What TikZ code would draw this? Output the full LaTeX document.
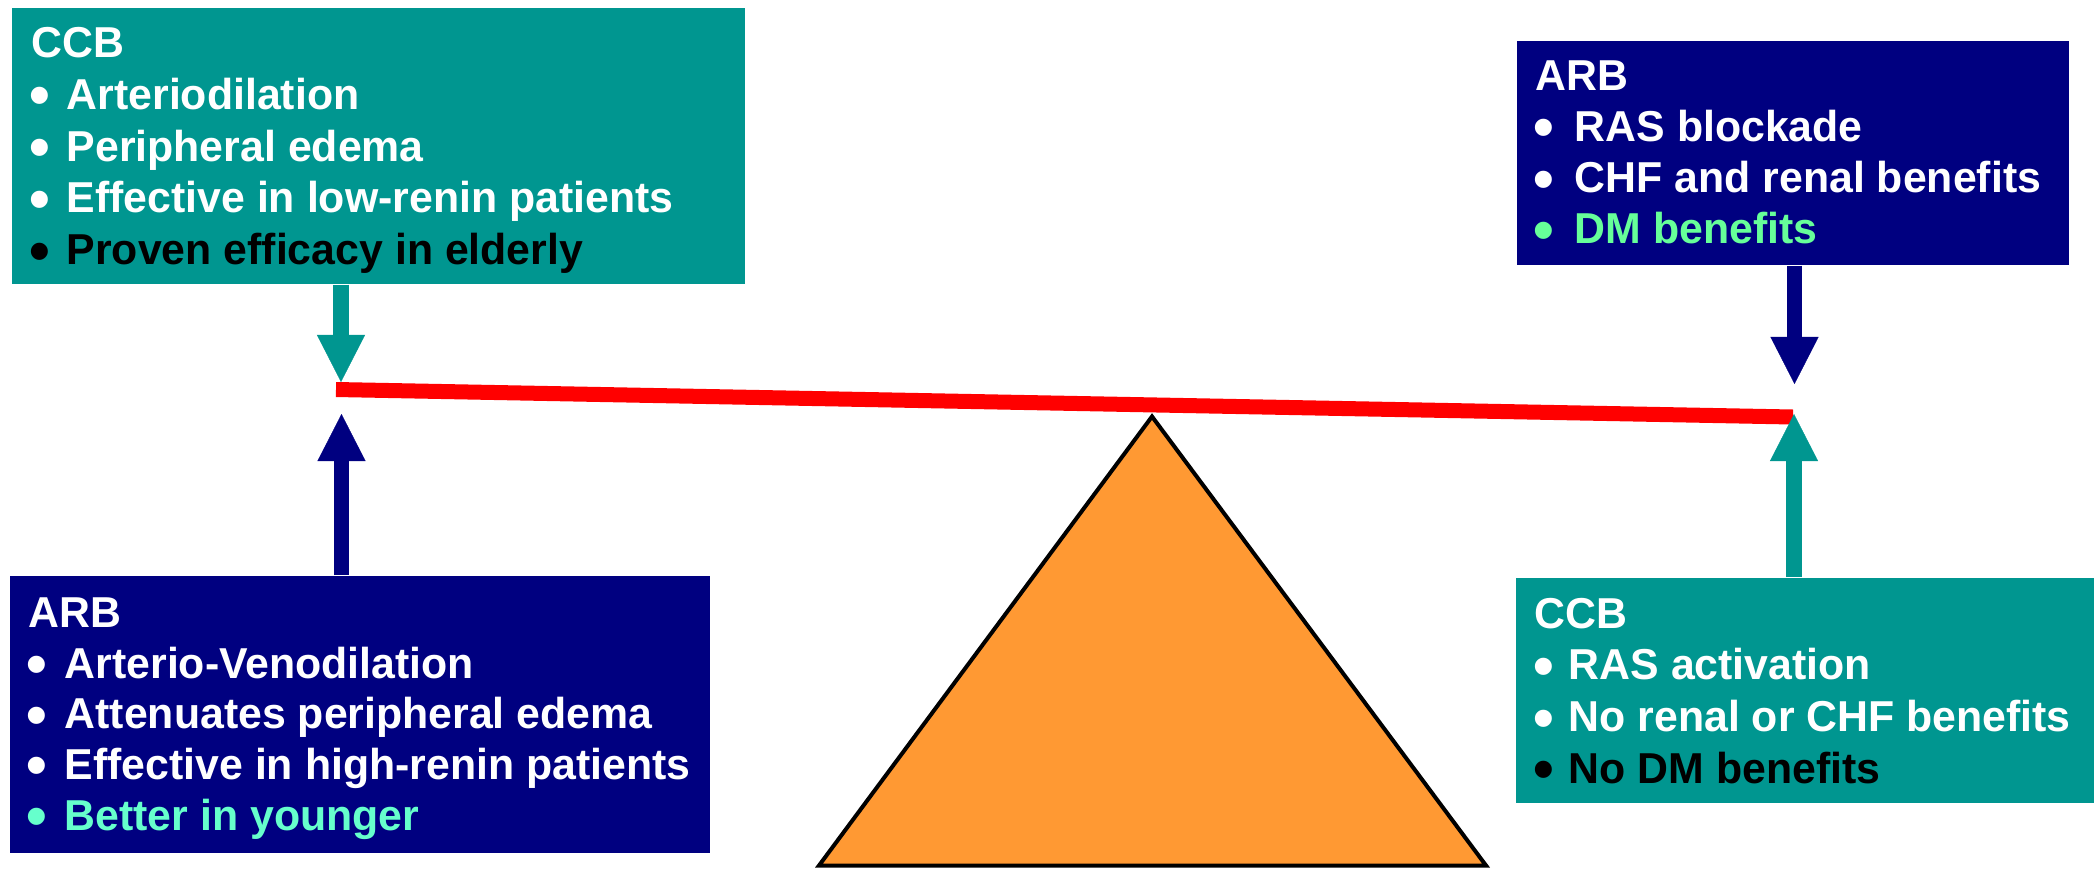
\documentclass[tikz,border=0pt]{standalone}
\usepackage{fontspec}
\setmainfont{Liberation Sans}[FakeStretch=0.99]
\usetikzlibrary{arrows.meta}
\definecolor{tealc}{RGB}{0,150,144}
\definecolor{navyc}{RGB}{0,0,128}
\definecolor{mintc}{RGB}{102,255,153}
\definecolor{aquac}{RGB}{102,255,204}
\definecolor{orangec}{RGB}{255,153,51}
\definecolor{redc}{RGB}{255,0,0}
\newcommand{\blt}[1]{\makebox[#1][l]{\smash{\raisebox{-1.9pt}{\fontsize{17pt}{14pt}\selectfont\char"2022}}}}
\begin{document}
\begin{tikzpicture}[x=0.01cm, y=-0.01cm,
  box/.style={rectangle, draw=none, inner sep=0pt, anchor=north west},
  tealbox/.style={box, fill=tealc},
  navybox/.style={box, fill=navyc},
  txt/.style={anchor=base west, inner sep=0pt, text=white,
    font=\fontsize{12.3pt}{14pt}\selectfont\bfseries},
  conn/.style={line width=0.155cm, -{Triangle[length=0.47cm, width=0.48cm, line width=0.1pt]}}
]
\useasboundingbox (0,0) rectangle (2100,869);

% boxes
\node[tealbox, minimum width=7.33cm, minimum height=2.76cm] (ccbL) at (11,7) {};
\node[navybox, minimum width=5.52cm, minimum height=2.24cm] (arbR) at (1516,40) {};
\node[navybox, minimum width=7.00cm, minimum height=2.77cm] (arbL) at (9,575) {};
\node[tealbox, minimum width=5.78cm, minimum height=2.25cm] (ccbR) at (1515,577) {};

% top-left CCB text
\node[txt] (tl0) at (31,57.5) {CCB};
\node[txt] (tl1) at (29,109.25) {\blt{0.37cm}Arteriodilation};
\node[txt] (tl2) at (29,161) {\blt{0.37cm}Peripheral edema};
\node[txt] (tl3) at (29,212.75) {\blt{0.37cm}Effective in low-renin patients};
\node[txt, text=black] (tl4) at (29,264.5) {\blt{0.37cm}Proven efficacy in elderly};

% top-right ARB text
\node[txt] (tr0) at (1535,90) {ARB};
\node[txt] (tr1) at (1533,141.3) {\blt{0.41cm}RAS blockade};
\node[txt] (tr2) at (1533,192.6) {\blt{0.41cm}CHF and renal benefits};
\node[txt, text=mintc] (tr3) at (1533,243.9) {\blt{0.41cm}DM benefits};

% bottom-left ARB text
\node[txt] (bl0) at (28,627) {ARB};
\node[txt] (bl1) at (26,678) {\blt{0.38cm}Arterio-Venodilation};
\node[txt] (bl2) at (26,728.5) {\blt{0.38cm}Attenuates peripheral edema};
\node[txt] (bl3) at (26,779) {\blt{0.38cm}Effective in high-renin patients};
\node[txt, text=aquac] (bl4) at (26,830) {\blt{0.38cm}Better in younger};

% bottom-right CCB text
\node[txt] (br0) at (1534,628) {CCB};
\node[txt] (br1) at (1533,679.7) {\blt{0.35cm}RAS activation};
\node[txt] (br2) at (1533,731.4) {\blt{0.35cm}No renal or CHF benefits};
\node[txt, text=black] (br3) at (1533,783) {\blt{0.35cm}No DM benefits};

% fulcrum
\coordinate (fulA) at (819,865.5);
\coordinate (fulB) at (1152,416.5);
\coordinate (fulC) at (1486,865.5);
\filldraw[fill=orangec, draw=black, line width=0.04cm, line join=miter] (fulA) -- (fulB) -- (fulC) -- cycle;

% beam
\coordinate (beamL) at (336,389.5);
\coordinate (beamR) at (1793,417);
\draw[redc, line width=0.15cm] (beamL) -- (beamR);

% arrows
\coordinate (tipA) at (341,382);
\coordinate (tipB) at (341.5,414);
\coordinate (tipC) at (1794.5,384);
\coordinate (tipD) at (1794,414);
\draw[conn, tealc] (ccbL.south -| tipA) -- (tipA);
\draw[conn, navyc] (arbL.north -| tipB) -- (tipB);
\draw[conn, navyc] (arbR.south -| tipC) -- (tipC);
\draw[conn, tealc] (ccbR.north -| tipD) -- (tipD);
\end{tikzpicture}
\end{document}
